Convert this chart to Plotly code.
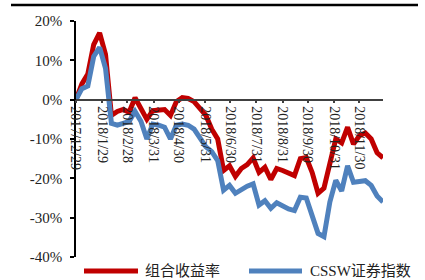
import plotly.graph_objects as go

dates = [
    "2017-12-29", "2018-01-05", "2018-01-12", "2018-01-19", "2018-01-26",
    "2018-02-02", "2018-02-09", "2018-02-16", "2018-02-23", "2018-03-02",
    "2018-03-09", "2018-03-16", "2018-03-23", "2018-03-30", "2018-04-06",
    "2018-04-13", "2018-04-20", "2018-04-27", "2018-05-04", "2018-05-11",
    "2018-05-18", "2018-05-25", "2018-06-01", "2018-06-08", "2018-06-15",
    "2018-06-22", "2018-06-29", "2018-07-06", "2018-07-13", "2018-07-20",
    "2018-07-27", "2018-08-03", "2018-08-10", "2018-08-17", "2018-08-24",
    "2018-08-31", "2018-09-07", "2018-09-14", "2018-09-21", "2018-09-28",
    "2018-10-05", "2018-10-12", "2018-10-19", "2018-10-26", "2018-11-02",
    "2018-11-09", "2018-11-16", "2018-11-23", "2018-11-30", "2018-12-07",
    "2018-12-14", "2018-12-21", "2018-12-28",
]

portfolio = [
    0.0, 4.0, 6.5, 14.0, 17.0, 11.5, -4.0, -3.0, -2.5, -3.2,
    0.5, -2.5, -5.0, -2.8, -2.5, -2.5, -4.0, -0.5, 0.5, 0.3,
    -0.5, -2.5, -4.0, -7.5, -10.0, -18.0, -16.8, -19.5, -17.5, -16.5,
    -14.8, -18.5, -17.2, -20.3, -17.5, -18.0, -18.5, -19.3, -15.0, -14.7,
    -18.5, -23.8, -22.5, -15.5, -10.0, -11.0, -7.0, -11.3, -9.2, -8.5,
    -10.0, -13.5, -14.8,
]

cssw = [
    0.0, 2.8, 3.5, 11.0, 13.3, 8.0, -6.0, -6.5, -6.0, -5.5,
    -3.0, -5.5, -10.0, -6.2, -6.5, -7.0, -10.0, -6.5, -6.2, -6.5,
    -7.5, -10.0, -12.0, -13.2, -15.5, -23.0, -21.8, -23.8, -22.8, -22.0,
    -21.4, -26.8, -25.7, -27.6, -26.2, -27.0, -27.8, -28.2, -24.8, -25.0,
    -29.5, -34.0, -34.8, -26.0, -20.5, -23.2, -16.8, -21.0, -20.8, -20.6,
    -21.8, -24.5, -26.0,
]

series_names = ["组合收益率", "CSSW证券指数"]

x_tickvals = [
    "2017-12-29", "2018-01-29", "2018-02-28", "2018-03-31", "2018-04-30",
    "2018-05-31", "2018-06-30", "2018-07-31", "2018-08-31", "2018-09-30",
    "2018-10-31", "2018-11-30",
]
x_ticktext = [
    "2017/12/29", "2018/1/29", "2018/2/28", "2018/3/31", "2018/4/30",
    "2018/5/31", "2018/6/30", "2018/7/31", "2018/8/31", "2018/9/30",
    "2018/10/31", "2018/11/30",
]
y_tickvals = [-40, -30, -20, -10, 0, 10, 20]
y_ticktext = ["-40%", "-30%", "-20%", "-10%", "0%", "10%", "20%"]

RED = "#C00000"
BLUE = "#4F81BD"
SERIF = "Liberation Serif, Noto Sans CJK SC, serif"

fig = go.Figure()
fig.add_trace(go.Scatter(x=dates, y=portfolio, mode="lines", name=series_names[0],
                         line=dict(color=RED, width=5), showlegend=False))
fig.add_trace(go.Scatter(x=dates, y=cssw, mode="lines", name=series_names[1],
                         line=dict(color=BLUE, width=5), showlegend=False))

W, H = 425, 280
L, R, T, B = 76, 42, 21, 23
pw, ph = W - L - R, H - T - B


def px(xp):
    return (xp - L) / pw


def py(yp):
    return (H - B - yp) / ph


fig.update_layout(
    width=W, height=H,
    margin=dict(l=L, r=R, t=T, b=B, pad=0),
    paper_bgcolor="white", plot_bgcolor="white",
    font=dict(family=SERIF, size=14, color="#222222"),
    xaxis=dict(
        type="date", range=["2017-12-29", "2018-12-28"],
        tickvals=x_tickvals, ticktext=x_ticktext, tickangle=90,
        anchor="free", position=40 / 60,
        showline=True, linecolor="#404040", linewidth=1.5,
        ticks="outside", ticklen=3, tickcolor="#404040", tickwidth=1.5,
        showgrid=False, zeroline=False, automargin=False,
        tickfont=dict(family=SERIF, size=14, color="#222222"),
    ),
    yaxis=dict(
        range=[-40, 20], tickvals=y_tickvals, ticktext=y_ticktext,
        showline=True, linecolor="black", linewidth=1.5,
        ticks="outside", ticklen=4, tickcolor="black", tickwidth=1.5,
        ticklabelstandoff=5,
        showgrid=False, zeroline=False, automargin=False,
        tickfont=dict(family=SERIF, size=15, color="#222222"),
    ),
    shapes=[
        dict(type="line", xref="paper", yref="paper", x0=px(11), x1=px(418),
             y0=py(5), y1=py(5), line=dict(color="black", width=2.5)),
        dict(type="line", xref="paper", yref="paper", x0=px(84), x1=px(138),
             y0=py(271), y1=py(271), line=dict(color=RED, width=5)),
        dict(type="line", xref="paper", yref="paper", x0=px(249), x1=px(302),
             y0=py(271), y1=py(271), line=dict(color=BLUE, width=5)),
    ],
    annotations=[
        dict(xref="paper", yref="paper", x=px(143), y=py(271), text=series_names[0],
             showarrow=False, xanchor="left", yanchor="middle",
             font=dict(family=SERIF, size=15, color="#222222")),
        dict(xref="paper", yref="paper", x=px(308), y=py(271), text=series_names[1],
             showarrow=False, xanchor="left", yanchor="middle",
             font=dict(family=SERIF, size=15, color="#222222")),
    ],
)

fig.write_html(
    "out.html",
    config={"displayModeBar": False},
    post_script="document.body.style.margin='0';document.body.style.overflow='hidden';",
)
